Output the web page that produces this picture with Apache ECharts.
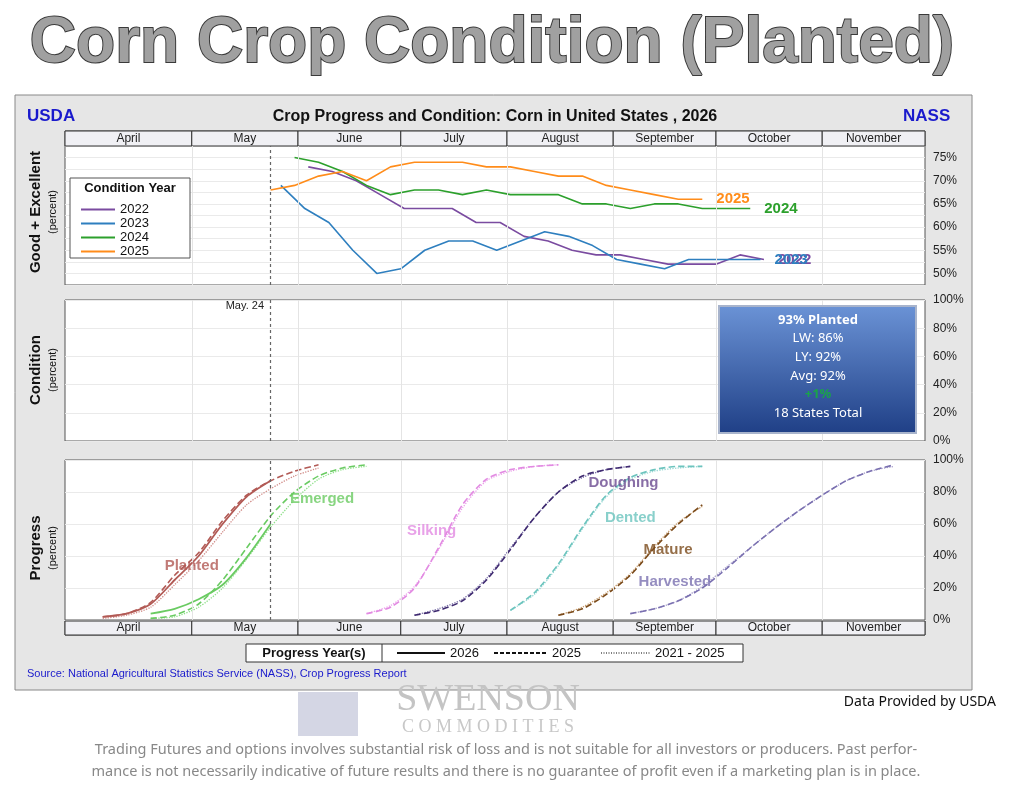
<!DOCTYPE html><html><head><meta charset="utf-8">
<script src="https://cdn.jsdelivr.net/npm/echarts@6/dist/echarts.min.js"></script>
<style>body{margin:0;background:#fff}#c{width:1013px;height:807px}</style></head><body><div id="c"></div>
<script>
// ---- data ----
const months = [["April",84,121],["May",121,152],["June",152,182],["July",182,213],["August",213,244],["September",244,274],["October",274,305],["November",305,335]];
const monthStarts = [121,152,182,213,244,274,305];
const reportDay = 144; // May 24
const cond2025 = {start:144, v:[68,69,71,72,70,73,74,74,74,73,73,72,71,71,69,68,67,66,66]};
const cond2024 = {start:151, v:[75,74,72,69,67,68,68,67,68,67,67,67,65,65,64,65,65,64,64,64]};
const cond2022 = {start:155, v:[73,72,70,67,64,64,64,61,61,58,57,55,54,54,53,52,52,52,54,53]};
const cond2023 = {start:147, v:[69,64,61,55,50,51,55,57,57,55,57,59,58,56,53,52,51,53,53,53,53]};
const planted26 = {start:95, v:[2,4,10,25,40,60,77,87]};
const planted25 = {start:95, v:[2,4,11,28,42,62,78,87,93,97]};
const plantedAvg = {start:95, v:[1,3,8,22,37,55,72,82,90,95]};
const emerged26 = {start:109, v:[4,7,13,22,39,60]};
const emerged25 = {start:109, v:[1,3,10,25,45,65,80,90,95,97]};
const emergedAvg = {start:109, v:[1,2,8,20,38,58,75,88,94,96]};
const silking25 = {start:172, v:[4,8,20,45,72,88,94,96,97]};
const silkingAvg = {start:172, v:[4,9,21,44,70,87,93,96,97]};
const dough25 = {start:186, v:[3,6,12,25,44,64,80,90,94,96]};
const doughAvg = {start:186, v:[3,7,13,26,45,64,80,89,94,96]};
const dent25 = {start:214, v:[6,17,35,58,78,89,94,96,96]};
const dentAvg = {start:214, v:[6,16,34,57,77,88,93,95,96]};
const mature25 = {start:228, v:[3,7,16,28,45,60,72]};
const matureAvg = {start:228, v:[3,8,17,29,46,61,71]};
const harv25 = {start:249, v:[4,7,12,20,32,45,57,68,78,87,93,97]};
const harvAvg = {start:249, v:[4,7,12,21,33,45,57,68,78,87,93,96]};
const planted = {pct:"93% Planted", lw:"LW: 86%", ly:"LY: 92%", avg:"Avg: 92%", chg:"+1%", states:"18 States Total"};

const FN='Liberation Sans';
const pts = s => s.v.map((y,i)=>[s.start+7*i,y]);
const L=65, W=860;
const grids=[{left:L,width:W,top:131,height:15},{left:L,width:W,top:146,height:139},{left:L,width:W,top:300,height:141},{left:L,width:W,top:460,height:160},{left:L,width:W,top:621,height:14}];
const xA = g => ({type:'value',gridIndex:g,min:84,max:335,show:false});
const strip = g => ({type:'custom',xAxisIndex:g,yAxisIndex:g,data:months,silent:true,
  renderItem:(p,api)=>{const a=api.coord([api.value(1),0]),b=api.coord([api.value(2),1]);
   return {type:'group',children:[{type:'rect',shape:{x:a[0],y:b[1],width:b[0]-a[0],height:a[1]-b[1]},style:{fill:'#f0f0f4',stroke:'#333',lineWidth:1}},
   {type:'text',style:{text:months[p.dataIndex][0],x:(a[0]+b[0])/2,y:(a[1]+b[1])/2,align:'center',verticalAlign:'middle',font:'12px '+FN,fill:'#222'}}]};},
  encode:{x:[1,2],y:0}});
const guide = g => ({type:'line',xAxisIndex:g,yAxisIndex:g,data:[],markLine:{silent:true,symbol:'none',label:{show:false},
  data:monthStarts.map(d=>({xAxis:d,lineStyle:{color:'#e4e4e4',type:'solid',width:1}})).concat([{xAxis:reportDay,lineStyle:{color:'#666',type:[3,3],width:1.2}}])}});
const condLine=(name,s,color)=>({type:'line',name,xAxisIndex:1,yAxisIndex:1,data:pts(s),symbol:'none',lineStyle:{color,width:1.6},itemStyle:{color},
  endLabel:{show:true,formatter:name,color,fontWeight:'bold',fontSize:15,fontFamily:FN,offset:[6,0]}});
const prog=(s,color,type,w)=>({type:'line',xAxisIndex:3,yAxisIndex:3,data:pts(s),symbol:'none',smooth:0.25,lineStyle:{color,width:w||1.6,type}});
const lbl=(t,x,y,color)=>({type:'scatter',xAxisIndex:3,yAxisIndex:3,data:[[x,y]],symbolSize:0,silent:true,z:10,
  label:{show:true,formatter:t,color,fontWeight:'bold',fontSize:15,fontFamily:FN,position:'inside'}});
const yPct = (g,min,max,iv) => ({type:'value',gridIndex:g,min,max,interval:iv,position:'right',
  axisLine:{show:false},axisTick:{show:false},
  axisLabel:{color:'#222',fontSize:12,formatter:v=>(Math.abs(v%5)<1e-6||iv>5)?v+'%':''},
  splitLine:{lineStyle:{color:'#eaeaea'}}});
const opt={animation:false,backgroundColor:'#fff',
 grid:grids.map(g=>Object.assign({backgroundColor:'#fff',show:true,borderColor:'#555',borderWidth:1},g)),
 xAxis:[0,1,2,3,4].map(xA),
 yAxis:[{type:'value',gridIndex:0,min:0,max:1,show:false},yPct(1,47.5,77.5,2.5),yPct(2,0,100,20),yPct(3,0,100,20),{type:'value',gridIndex:4,min:0,max:1,show:false}],
 legend:{z:20,data:['2022','2023','2024','2025'],orient:'vertical',left:76,top:198,itemGap:1,itemWidth:34,itemHeight:2,icon:'rect',textStyle:{fontSize:13,color:'#111',fontFamily:FN}},
 series:[strip(0),strip(4),guide(1),guide(2),guide(3),
  condLine('2022',cond2022,'#7a4ba0'),condLine('2023',cond2023,'#2e7fbf'),condLine('2024',cond2024,'#2ca02c'),condLine('2025',cond2025,'#ff8c1a'),
  prog(plantedAvg,'#d08a86','dotted',1.3),prog(planted25,'#b25a55','dashed'),prog(planted26,'#b25a55','solid',1.8),
  prog(emergedAvg,'#8fe08a','dotted',1.3),prog(emerged25,'#6acb62','dashed'),prog(emerged26,'#6acb62','solid',1.8),
  prog(silkingAvg,'#eaa0ea','dotted',1.3),prog(silking25,'#e28ae2','dashed'),
  prog(doughAvg,'#7a70a8','dotted',1.3),prog(dough25,'#3f2a70','dashed'),
  prog(dentAvg,'#9ad8d4','dotted',1.3),prog(dent25,'#6cc4be','dashed'),
  prog(matureAvg,'#c69a6a','dotted',1.3),prog(mature25,'#7a4a1a','dashed'),
  prog(harvAvg,'#a8a0cc','dotted',1.3),prog(harv25,'#7a70b0','dashed'),
  lbl('Planted',121,34,'#b25a55'),lbl('Emerged',159,76,'#6acb62'),lbl('Silking',191,56,'#e28ae2'),lbl('Doughing',247,86,'#6a4a90'),
  lbl('Dented',249,64,'#6cc4be'),lbl('Mature',260,44,'#7a4a1a'),lbl('Harvested',262,24,'#7a70b0')],
 graphic:[
  {type:'rect',shape:{x:15,y:95,width:957,height:595},style:{fill:'#e6e6e6',stroke:'#888'},z:-10},
  {type:'text',x:492,y:44,style:{text:'Corn Crop Condition (Planted)',font:'bold 64px '+FN,fill:'#a0a0a0',stroke:'#3a3a3a',lineWidth:2,align:'center',verticalAlign:'middle'}},
  {type:'text',x:27,y:108,style:{text:'USDA',font:'bold 17px '+FN,fill:'#1a1acc'}},
  {type:'text',x:903,y:108,style:{text:'NASS',font:'bold 17px '+FN,fill:'#1a1acc'}},
  {type:'text',x:495,y:117,style:{text:'Crop Progress and Condition: Corn in United States , 2026',font:'bold 16px '+FN,fill:'#111',align:'center',verticalAlign:'middle'}},
  {type:'rect',shape:{x:70,y:178,width:120,height:80},style:{fill:'#fff',stroke:'#555'},z:5},
  {type:'text',x:130,y:188,style:{text:'Condition Year',font:'bold 13px '+FN,fill:'#111',align:'center',verticalAlign:'middle'},z:6},
  {type:'text',x:36,y:212,rotation:Math.PI/2,style:{text:'Good + Excellent',font:'bold 15px '+FN,fill:'#111',align:'center',verticalAlign:'middle'}},
  {type:'text',x:53,y:212,rotation:Math.PI/2,style:{text:'(percent)',font:'11px '+FN,fill:'#111',align:'center',verticalAlign:'middle'}},
  {type:'text',x:36,y:370,rotation:Math.PI/2,style:{text:'Condition',font:'bold 15px '+FN,fill:'#111',align:'center',verticalAlign:'middle'}},
  {type:'text',x:53,y:370,rotation:Math.PI/2,style:{text:'(percent)',font:'11px '+FN,fill:'#111',align:'center',verticalAlign:'middle'}},
  {type:'text',x:36,y:548,rotation:Math.PI/2,style:{text:'Progress',font:'bold 15px '+FN,fill:'#111',align:'center',verticalAlign:'middle'}},
  {type:'text',x:53,y:548,rotation:Math.PI/2,style:{text:'(percent)',font:'11px '+FN,fill:'#111',align:'center',verticalAlign:'middle'}},
  {type:'text',x:264,y:306,style:{text:'May. 24',font:'11px '+FN,fill:'#222',align:'right',verticalAlign:'middle'}},
  {type:'rect',shape:{x:719,y:306,width:197,height:127},style:{fill:new echarts.graphic.LinearGradient(0,0,0,1,[{offset:0,color:'#6b93d6'},{offset:1,color:'#1f3f86'}]),stroke:'#a8b4cc',lineWidth:2},z:100},
  {type:'text',x:818,y:320,style:{text:planted.pct,font:'bold 13px Noto Sans',fill:'#fff',align:'center',verticalAlign:'middle'},z:101},
  {type:'text',x:818,y:338,style:{text:planted.lw,font:'13px Noto Sans',fill:'#fff',align:'center',verticalAlign:'middle'},z:101},
  {type:'text',x:818,y:357,style:{text:planted.ly,font:'13px Noto Sans',fill:'#fff',align:'center',verticalAlign:'middle'},z:101},
  {type:'text',x:818,y:376,style:{text:planted.avg,font:'13px Noto Sans',fill:'#fff',align:'center',verticalAlign:'middle'},z:101},
  {type:'text',x:818,y:394,style:{text:planted.chg,font:'bold 13px Noto Sans',fill:'#19a34a',align:'center',verticalAlign:'middle'},z:101},
  {type:'text',x:818,y:413,style:{text:planted.states,font:'13px Noto Sans',fill:'#fff',align:'center',verticalAlign:'middle'},z:101},
  {type:'rect',shape:{x:246,y:644,width:497,height:18},style:{fill:'#fff',stroke:'#333'}},
  {type:'line',shape:{x1:382,y1:644,x2:382,y2:662},style:{stroke:'#333'}},
  {type:'text',x:314,y:653,style:{text:'Progress Year(s)',font:'bold 13px '+FN,fill:'#111',align:'center',verticalAlign:'middle'}},
  {type:'line',shape:{x1:397,y1:653,x2:445,y2:653},style:{stroke:'#111',lineWidth:2}},
  {type:'text',x:450,y:653,style:{text:'2026',font:'13px '+FN,fill:'#111',verticalAlign:'middle'}},
  {type:'line',shape:{x1:494,y1:653,x2:546,y2:653},style:{stroke:'#111',lineWidth:2,lineDash:[4,2]}},
  {type:'text',x:552,y:653,style:{text:'2025',font:'13px '+FN,fill:'#111',verticalAlign:'middle'}},
  {type:'line',shape:{x1:601,y1:653,x2:650,y2:653},style:{stroke:'#555',lineWidth:1.5,lineDash:[1,1.5]}},
  {type:'text',x:655,y:653,style:{text:'2021 - 2025',font:'13px '+FN,fill:'#111',verticalAlign:'middle'}},
  {type:'text',x:27,y:674,style:{text:'Source: National Agricultural Statistics Service (NASS), Crop Progress Report',font:'11px '+FN,fill:'#1a1acc',verticalAlign:'middle'}},
  {type:'text',x:996,y:702,style:{text:'Data Provided by USDA',font:'14px Noto Sans',fill:'#111',align:'right',verticalAlign:'middle'}},
  {type:'text',x:488,y:700,style:{text:'SWENSON',font:'38px Liberation Serif',fill:'#c4c4c4',align:'center',verticalAlign:'middle'}},
  {type:'text',x:488,y:727,style:{text:'C O M M O D I T I E S',font:'18px Liberation Serif',fill:'#c8c8c8',align:'center',verticalAlign:'middle'}},
  {type:'rect',shape:{x:298,y:692,width:60,height:44},style:{fill:'#d4d6e4'}},
  {type:'text',x:506,y:750,style:{text:'Trading Futures and options involves substantial risk of loss and is not suitable for all investors or producers. Past perfor-',font:'14.5px Noto Sans',fill:'#888',align:'center',verticalAlign:'middle'}},
  {type:'text',x:506,y:772,style:{text:'mance is not necessarily indicative of future results and there is no guarantee of profit even if a marketing plan is in place.',font:'14.5px Noto Sans',fill:'#888',align:'center',verticalAlign:'middle'}}
 ]};
echarts.init(document.getElementById('c')).setOption(opt);
</script></body></html>
